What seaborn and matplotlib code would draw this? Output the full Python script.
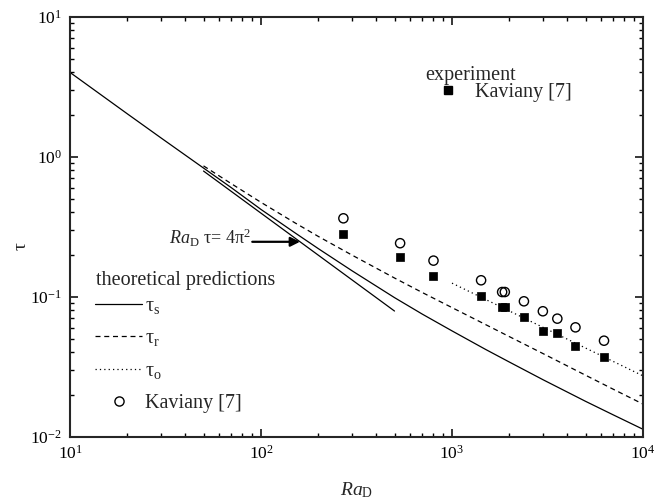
import matplotlib
matplotlib.use("Agg")
import matplotlib.pyplot as plt
from matplotlib.lines import Line2D
import seaborn as sns
import pandas as pd

# ---------------- data ----------------
ra_s = [10, 20, 30, 50, 70, 100, 150, 200, 300, 500, 700, 1000, 1500, 2000,
        3000, 5000, 7000, 10000]
tau_s = [4.0, 2.02, 1.36, 0.83, 0.60, 0.42, 0.287, 0.22, 0.153, 0.0985,
         0.075, 0.057, 0.042, 0.0341, 0.0255, 0.0179, 0.0143, 0.0113]

ra_r = [50, 70, 100, 150, 200, 300, 500, 700, 1000, 1500, 2000, 3000, 5000,
        7000, 10000]
tau_r = [0.86, 0.641, 0.472, 0.338, 0.269, 0.198, 0.136, 0.107, 0.0836,
         0.0632, 0.0518, 0.0392, 0.0275, 0.0218, 0.0171]

ra_o = [1000, 2000, 5000, 10000]
tau_o = [0.125, 0.079, 0.043, 0.0272]

ra_asym = [50, 500]
tau_asym = [0.79, 0.079]

exp_ra = [270, 535, 800, 1420, 1830, 1890, 2380, 2990, 3560, 4430, 6250]
exp_tau_filled = [0.282, 0.191, 0.141, 0.101, 0.085, 0.085, 0.0713, 0.0566, 0.0553, 0.0445, 0.0373]
exp_tau_open = [0.363, 0.241, 0.181, 0.131, 0.108, 0.108, 0.0927, 0.0787, 0.0697, 0.0604, 0.0485]

# ---------------- style ----------------
sns.set_style("ticks")
plt.rcParams["font.family"] = ["Liberation Serif", "DejaVu Serif"]
plt.rcParams["mathtext.fontset"] = "custom"
plt.rcParams["mathtext.rm"] = "Liberation Serif"
plt.rcParams["mathtext.it"] = "Liberation Serif:italic"
plt.rcParams["mathtext.bf"] = "Liberation Serif:bold"
plt.rcParams["axes.unicode_minus"] = False

fig = plt.figure(figsize=(6.67, 5.04), dpi=100)
ax = fig.add_axes([70 / 667, (504 - 436.7) / 504, 573 / 667, 420 / 504])
ax.set_xscale("log")
ax.set_yscale("log")

df_s = pd.DataFrame({"Ra": ra_s, "tau": tau_s})
df_r = pd.DataFrame({"Ra": ra_r, "tau": tau_r})
df_o = pd.DataFrame({"Ra": ra_o, "tau": tau_o})
df_a = pd.DataFrame({"Ra": ra_asym, "tau": tau_asym})
df_e = pd.DataFrame({"Ra": exp_ra, "filled": exp_tau_filled, "open": exp_tau_open})

lw = 0.9
sns.lineplot(data=df_s, x="Ra", y="tau", ax=ax, color="k", lw=lw, estimator=None)
sns.lineplot(data=df_a, x="Ra", y="tau", ax=ax, color="k", lw=lw, estimator=None)
sns.lineplot(data=df_r, x="Ra", y="tau", ax=ax, color="k", lw=lw, estimator=None,
             dashes=(4, 3))
sns.lineplot(data=df_o, x="Ra", y="tau", ax=ax, color="k", lw=lw, estimator=None,
             dashes=(1, 2.5))
sns.scatterplot(data=df_e, x="Ra", y="filled", ax=ax, marker="s", s=36,
                color="k", edgecolor="k", linewidth=0.5, zorder=5)
sns.scatterplot(data=df_e, x="Ra", y="open", ax=ax, marker="o", s=44,
                facecolor="none", edgecolor="k", linewidth=1.0, zorder=5)

ax.set_xlim(10, 1e4)
ax.set_ylim(1e-2, 10)

for sp in ax.spines.values():
    sp.set_linewidth(1.5)
    sp.set_visible(True)
ax.tick_params(which="both", direction="in", top=True, right=True, colors="k",
               labelsize=12.5, pad=6)
ax.tick_params(which="major", length=6, width=1.1)
ax.tick_params(which="minor", length=3, width=1.0)

ax.set_xlabel(r"$\mathit{Ra}_{\mathrm{D}}$", fontsize=14)
ax.xaxis.set_label_coords(0.5, -0.105)
ax.set_ylabel("τ", fontsize=14)
ax.yaxis.set_label_coords(-0.071, 0.455)

# annotation
ax.annotate("", xy=(160, 0.2467), xytext=(90, 0.2467),
            arrowprops=dict(arrowstyle="-|>", color="k", lw=1.6,
                            mutation_scale=14, shrinkA=0, shrinkB=0))
ax.text(88, 0.236, r"$\mathit{Ra}_{\mathrm{D}}$ τ= 4π$^{2}$", fontsize=13,
        ha="right", va="baseline")

# legend titles
ax.text((96 - 70) / 573, (436.7 - 280) / 420, "theoretical predictions",
        transform=ax.transAxes, fontsize=14.5, ha="left", va="center")
ax.text((425 - 70) / 573, (436.7 - 76) / 420, "experiment",
        transform=ax.transAxes, fontsize=14.5, ha="left", va="center")

h_s = Line2D([], [], color="k", lw=lw)
h_r = Line2D([], [], color="k", lw=lw, dashes=(4, 3))
h_o = Line2D([], [], color="k", lw=lw, dashes=(1, 2.5))
h_c = Line2D([], [], color="k", ls="none", marker="o", ms=6.6,
             mfc="none", mew=1.0)
h_q = Line2D([], [], color="k", ls="none", marker="s", ms=6.0)

leg1 = ax.legend([h_s, h_r, h_o, h_c],
                 [r"τ$_{\mathrm{s}}$", r"τ$_{\mathrm{r}}$", r"τ$_{\mathrm{o}}$", "Kaviany [7]"],
                 loc="upper left", bbox_to_anchor=((95 - 70) / 573, (436.7 - 297) / 420),
                 frameon=False, fontsize=14.5, handlelength=2.35, handletextpad=0.15,
                 labelspacing=0.66, borderpad=0, borderaxespad=0)
ax.add_artist(leg1)
ax.legend([h_q], ["Kaviany [7]"], loc="upper left",
          bbox_to_anchor=((424 - 70) / 573, (436.7 - 83) / 420),
          frameon=False, fontsize=14.5, handlelength=2.35, handletextpad=0.2,
          borderpad=0, borderaxespad=0)

fig.savefig("out.png", dpi=100)
